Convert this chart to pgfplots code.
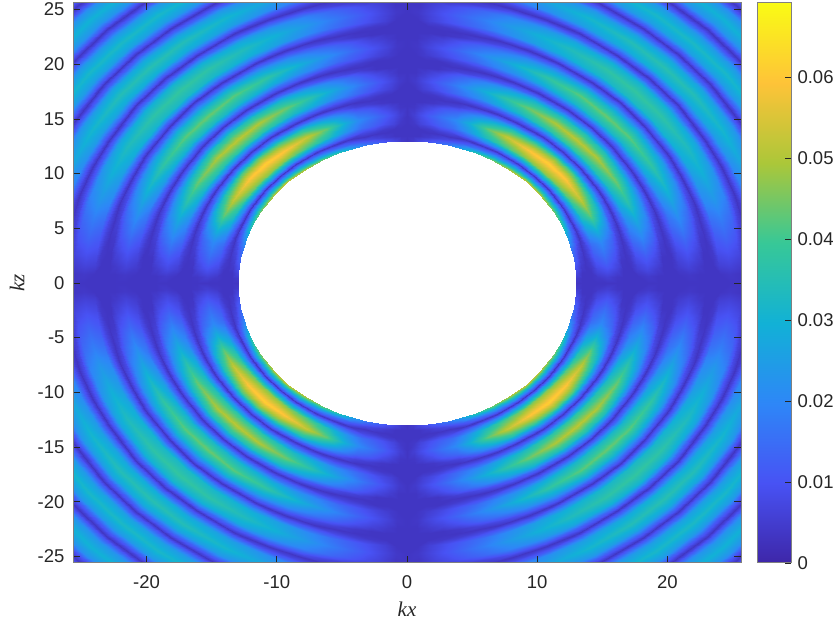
\documentclass[border=0pt]{standalone}
\usepackage{pgfplots}
\usepackage{pgfplotstable}
\usepackage{fontspec}
\setmainfont{Liberation Sans}
\newfontfamily\ser{Liberation Serif}
\pgfplotsset{compat=1.18}
% r = wavenumber radius, p = angle from the nearest axis (deg), v = amplitude in units of 0.001
\pgfplotstableread{
r p v
13.00 0 3.5
13.00 2 4.7
13.00 4 7.3
13.00 7 10.5
13.00 10 13.6
13.00 14 17.3
13.00 18 24.6
13.00 24 36.7
13.00 30 44.5
13.00 38 50.8
13.00 45 52.4
13.45 0 3.5
13.45 2 3.5
13.45 4 3.5
13.45 7 4.8
13.45 10 6.3
13.45 14 8.0
13.45 18 11.4
13.45 24 16.9
13.45 30 20.6
13.45 38 23.5
13.45 45 24.2
13.80 0 3.5
13.80 2 3.5
13.80 4 3.5
13.80 7 3.5
13.80 10 3.5
13.80 14 3.5
13.80 18 3.5
13.80 24 3.5
13.80 30 3.5
13.80 38 3.5
13.80 45 3.5
14.15 0 3.5
14.15 2 3.5
14.15 4 3.5
14.15 7 4.6
14.15 10 6.0
14.15 14 7.6
14.15 18 10.8
14.15 24 16.1
14.15 30 19.6
14.15 38 22.3
14.15 45 23.0
14.60 0 3.5
14.60 2 4.2
14.60 4 6.5
14.60 7 9.3
14.60 10 12.1
14.60 14 15.4
14.60 18 21.9
14.60 24 32.7
14.60 30 39.7
14.60 38 45.3
14.60 45 46.7
15.37 0 3.5
15.37 2 5.6
15.37 4 8.7
15.37 7 12.4
15.37 10 16.1
15.37 14 20.4
15.37 18 29.0
15.37 24 43.3
15.37 30 52.5
15.37 38 59.9
15.37 45 61.8
16.14 0 3.5
16.14 2 3.8
16.14 4 5.9
16.14 7 8.4
16.14 10 11.0
16.14 14 13.9
16.14 18 19.8
16.14 24 29.5
16.14 30 35.9
16.14 38 40.9
16.14 45 42.2
16.59 0 3.5
16.59 2 3.5
16.59 4 3.5
16.59 7 3.9
16.59 10 5.1
16.59 14 6.5
16.59 18 9.2
16.59 24 13.7
16.59 30 16.7
16.59 38 19.0
16.59 45 19.6
16.94 0 3.5
16.94 2 3.5
16.94 4 3.5
16.94 7 3.5
16.94 10 3.5
16.94 14 3.5
16.94 18 3.5
16.94 24 3.5
16.94 30 3.5
16.94 38 3.5
16.94 45 3.5
17.29 0 3.5
17.29 2 3.5
17.29 4 3.5
17.29 7 4.1
17.29 10 5.6
17.29 14 7.9
17.29 18 10.2
17.29 24 13.5
17.29 30 16.2
17.29 38 18.2
17.29 45 18.8
17.74 0 3.5
17.74 2 3.5
17.74 4 5.8
17.74 7 8.4
17.74 10 11.5
17.74 14 16.1
17.74 18 20.7
17.74 24 27.6
17.74 30 33.0
17.74 38 37.2
17.74 45 38.4
18.51 0 3.5
18.51 2 4.6
18.51 4 7.7
18.51 7 11.3
18.51 10 15.4
18.51 14 21.5
18.51 18 27.7
18.51 24 36.9
18.51 30 44.1
18.51 38 49.8
18.51 45 51.3
19.28 0 3.5
19.28 2 3.5
19.28 4 5.3
19.28 7 7.8
19.28 10 10.6
19.28 14 14.8
19.28 18 19.1
19.28 24 25.4
19.28 30 30.4
19.28 38 34.2
19.28 45 35.3
19.73 0 3.5
19.73 2 3.5
19.73 4 3.5
19.73 7 3.6
19.73 10 5.0
19.73 14 6.9
19.73 18 8.9
19.73 24 11.9
19.73 30 14.2
19.73 38 16.0
19.73 45 16.5
20.08 0 3.5
20.08 2 3.5
20.08 4 3.5
20.08 7 3.5
20.08 10 3.5
20.08 14 3.5
20.08 18 3.5
20.08 24 3.5
20.08 30 3.5
20.08 38 3.5
20.08 45 3.5
20.43 0 3.5
20.43 2 3.5
20.43 4 3.5
20.43 7 3.5
20.43 10 4.8
20.43 14 6.7
20.43 18 8.6
20.43 24 11.5
20.43 30 13.8
20.43 38 15.5
20.43 45 16.0
20.88 0 3.5
20.88 2 3.5
20.88 4 4.9
20.88 7 7.2
20.88 10 9.8
20.88 14 13.7
20.88 18 17.6
20.88 24 23.5
20.88 30 28.0
20.88 38 31.6
20.88 45 32.6
21.65 0 3.5
21.65 2 4.0
21.65 4 6.6
21.65 7 9.7
21.65 10 13.2
21.65 14 18.4
21.65 18 23.7
21.65 24 31.6
21.65 30 37.8
21.65 38 42.6
21.65 45 43.9
22.42 0 3.5
22.42 2 3.5
22.42 4 4.6
22.42 7 6.7
22.42 10 9.1
22.42 14 12.8
22.42 18 16.4
22.42 24 21.9
22.42 30 26.1
22.42 38 29.5
22.42 45 30.4
22.87 0 3.5
22.87 2 3.5
22.87 4 3.5
22.87 7 3.5
22.87 10 4.3
22.87 14 6.0
22.87 18 7.7
22.87 24 10.2
22.87 30 12.2
22.87 38 13.8
22.87 45 14.2
23.22 0 3.5
23.22 2 3.5
23.22 4 3.5
23.22 7 3.5
23.22 10 3.5
23.22 14 3.5
23.22 18 3.5
23.22 24 3.5
23.22 30 3.5
23.22 38 3.5
23.22 45 3.5
23.57 0 3.5
23.57 2 3.5
23.57 4 3.5
23.57 7 4.3
23.57 10 5.8
23.57 14 7.6
23.57 18 9.9
23.57 24 12.2
23.57 30 13.9
23.57 38 15.4
23.57 45 15.9
24.02 0 3.5
24.02 2 3.5
24.02 4 5.9
24.02 7 8.9
24.02 10 11.7
24.02 14 15.6
24.02 18 20.2
24.02 24 25.2
24.02 30 28.8
24.02 38 31.6
24.02 45 32.7
24.79 0 3.5
24.79 2 4.2
24.79 4 6.9
24.79 7 10.3
24.79 10 13.8
24.79 14 18.4
24.79 18 23.7
24.79 24 29.5
24.79 30 33.7
24.79 38 37.2
24.79 45 38.3
25.56 0 3.5
25.56 2 3.5
25.56 4 5.5
25.56 7 8.3
25.56 10 11.0
25.56 14 14.7
25.56 18 19.0
25.56 24 23.6
25.56 30 26.9
25.56 38 29.7
25.56 45 30.6
26.01 0 3.5
26.01 2 3.5
26.01 4 3.5
26.01 7 3.5
26.01 10 5.2
26.01 14 6.9
26.01 18 9.0
26.01 24 11.0
26.01 30 12.7
26.01 38 13.9
26.01 45 14.4
26.37 0 3.5
26.37 2 3.5
26.37 4 3.5
26.37 7 3.5
26.37 10 3.5
26.37 14 3.5
26.37 18 3.5
26.37 24 3.5
26.37 30 3.5
26.37 38 3.5
26.37 45 3.5
26.72 0 3.5
26.72 2 3.5
26.72 4 3.5
26.72 7 3.5
26.72 10 5.1
26.72 14 6.8
26.72 18 8.7
26.72 24 10.8
26.72 30 12.3
26.72 38 13.6
26.72 45 14.0
27.17 0 3.5
27.17 2 3.5
27.17 4 5.2
27.17 7 7.8
27.17 10 10.4
27.17 14 13.8
27.17 18 17.9
27.17 24 22.2
27.17 30 25.4
27.17 38 27.9
27.17 45 28.9
27.94 0 3.5
27.94 2 3.9
27.94 4 6.4
27.94 7 9.7
27.94 10 12.8
27.94 14 17.1
27.94 18 22.2
27.94 24 27.5
27.94 30 31.4
27.94 38 34.7
27.94 45 35.7
28.71 0 3.5
28.71 2 3.5
28.71 4 4.9
28.71 7 7.4
28.71 10 9.8
28.71 14 13.1
28.71 18 16.9
28.71 24 20.9
28.71 30 24.0
28.71 38 26.5
28.71 45 27.3
29.16 0 3.5
29.16 2 3.5
29.16 4 3.5
29.16 7 3.5
29.16 10 4.6
29.16 14 6.2
29.16 18 7.9
29.16 24 9.9
29.16 30 11.4
29.16 38 12.5
29.16 45 12.9
29.51 0 3.5
29.51 2 3.5
29.51 4 3.5
29.51 7 3.5
29.51 10 3.5
29.51 14 3.5
29.51 18 3.5
29.51 24 3.5
29.51 30 3.5
29.51 38 3.5
29.51 45 3.5
29.86 0 3.5
29.86 2 3.5
29.86 4 3.5
29.86 7 3.5
29.86 10 5.3
29.86 14 6.8
29.86 18 8.3
29.86 24 10.0
29.86 30 11.3
29.86 38 12.3
29.86 45 12.5
30.31 0 3.5
30.31 2 3.5
30.31 4 5.8
30.31 7 8.3
30.31 10 10.9
30.31 14 14.0
30.31 18 17.1
30.31 24 20.7
30.31 30 23.3
30.31 38 25.4
30.31 45 25.9
31.08 0 3.5
31.08 2 4.6
31.08 4 7.2
31.08 7 10.5
31.08 10 13.8
31.08 14 17.7
31.08 18 21.6
31.08 24 26.2
31.08 30 29.4
31.08 38 32.1
31.08 45 32.7
31.85 0 3.5
31.85 2 3.5
31.85 4 5.4
31.85 7 7.8
31.85 10 10.4
31.85 14 13.3
31.85 18 16.2
31.85 24 19.7
31.85 30 22.2
31.85 38 24.2
31.85 45 24.6
32.30 0 3.5
32.30 2 3.5
32.30 4 3.5
32.30 7 3.5
32.30 10 4.8
32.30 14 6.3
32.30 18 7.7
32.30 24 9.3
32.30 30 10.5
32.30 38 11.4
32.30 45 11.6
32.65 0 3.5
32.65 2 3.5
32.65 4 3.5
32.65 7 3.5
32.65 10 3.5
32.65 14 3.5
32.65 18 3.5
32.65 24 3.5
32.65 30 3.5
32.65 38 3.5
32.65 45 3.5
33.00 0 3.5
33.00 2 3.5
33.00 4 3.5
33.00 7 3.5
33.00 10 4.8
33.00 14 6.1
33.00 18 7.5
33.00 24 9.1
33.00 30 10.2
33.00 38 11.2
33.00 45 11.4
33.45 0 3.5
33.45 2 3.5
33.45 4 5.2
33.45 7 7.5
33.45 10 9.9
33.45 14 12.7
33.45 18 15.5
33.45 24 18.7
33.45 30 21.2
33.45 38 23.0
33.45 45 23.5
34.22 0 3.5
34.22 2 4.2
34.22 4 6.6
34.22 7 9.6
34.22 10 12.6
34.22 14 16.2
34.22 18 19.8
34.22 24 24.0
34.22 30 27.0
34.22 38 29.4
34.22 45 30.0
34.99 0 3.5
34.99 2 3.5
34.99 4 4.9
34.99 7 7.1
34.99 10 9.4
34.99 14 12.1
34.99 18 14.8
34.99 24 17.9
34.99 30 20.2
34.99 38 22.0
34.99 45 22.4
35.44 0 3.5
35.44 2 3.5
35.44 4 3.5
35.44 7 3.5
35.44 10 4.5
35.44 14 5.8
35.44 18 7.0
35.44 24 8.5
35.44 30 9.5
35.44 38 10.4
35.44 45 10.6
35.79 0 3.5
35.79 2 3.5
35.79 4 3.5
35.79 7 3.5
35.79 10 3.5
35.79 14 3.5
35.79 18 3.5
35.79 24 3.5
35.79 30 3.5
35.79 38 3.5
35.79 45 3.5
36.14 0 3.5
36.14 2 3.5
36.14 4 3.5
36.14 7 3.5
36.14 10 4.4
36.14 14 5.6
36.14 18 6.8
36.14 24 8.3
36.14 30 9.3
36.14 38 10.1
36.14 45 10.4
36.59 0 3.5
36.59 2 3.5
36.59 4 4.7
36.59 7 6.9
36.59 10 9.0
36.59 14 11.5
36.59 18 14.1
36.59 24 17.1
36.59 30 19.2
36.59 38 20.9
36.59 45 21.4
}\rings
\newcommand\octant[2]{\addplot[surf,shader=interp,mesh/cols=11,point meta={\thisrow{v}/1000}]
  table[x expr={#1},y expr={#2}]{\rings};}
\def\C{(\thisrow{r}*cos(\thisrow{p}))}
\def\S{(\thisrow{r}*sin(\thisrow{p}))}
\pgfplotsset{
  parula/.style={colormap={parula}{rgb=(0.2422,0.1504,0.6603) rgb=(0.2810,0.3228,0.9579) rgb=(0.1786,0.5289,0.9682) rgb=(0.0689,0.6948,0.8394) rgb=(0.2161,0.7843,0.5923) rgb=(0.6720,0.7793,0.2227) rgb=(0.9970,0.7659,0.2199) rgb=(0.9769,0.9839,0.0805)}},
  frame/.style={scale only axis,axis on top,parula,point meta min=0,point meta max=0.0692,
    tick align=inside,
    tick style={draw=black!85,line width=0.7pt},
    axis line style={draw=black!50,line width=1pt},
    tick label style={font=\fontsize{18.5}{20}\selectfont,text=black!85}},
}
\begin{document}
\begin{tikzpicture}[x=1pt,y=1pt]
\useasboundingbox (-73,-57) rectangle (765,563);
\begin{axis}[frame,
  at={(0pt,0pt)},anchor=south west,
  width=668pt,height=560pt,
  xmin=-25.65,xmax=25.65,ymin=-25.6,ymax=25.6,
  xtick={-20,-10,0,10,20},xticklabels={-20,-10,0,10,20},
  ytick={-25,-20,-15,-10,-5,0,5,10,15,20,25},
  yticklabels={-25,-20,-15,-10,-5,0,5,10,15,20,25},
  major tick length=7pt,
  xticklabel style={yshift=-9pt},
  yticklabel style={xshift=-5pt},
  xlabel={{\ser\itshape kx}},ylabel={{\ser\itshape kz}},
  xlabel style={at={(axis description cs:0.5,0)},anchor=center,yshift=-46pt,font=\fontsize{21}{24}\selectfont,text=black!85},
  ylabel style={at={(axis description cs:0,0.5)},anchor=center,yshift=56pt,font=\fontsize{21}{24}\selectfont,text=black!85},
]
\octant{\C}{\S}
\octant{\S}{\C}
\octant{-\C}{\S}
\octant{-\S}{\C}
\octant{\C}{-\S}
\octant{\S}{-\C}
\octant{-\C}{-\S}
\octant{-\S}{-\C}
\end{axis}
\begin{axis}[frame,
  at={(684pt,0pt)},anchor=south west,
  width=34pt,height=560pt,
  xmin=0,xmax=1,ymin=0,ymax=0.0692,
  xtick=\empty,
  ytick={0,0.01,0.02,0.03,0.04,0.05,0.06},
  yticklabels={0,0.01,0.02,0.03,0.04,0.05,0.06},
  scaled y ticks=false,
  ytick pos=right,yticklabel pos=right,
  major tick length=6pt,
  yticklabel style={xshift=3pt},
]
\addplot[surf,shader=interp,mesh/cols=2,point meta=y] coordinates {
(0,0) (1,0)
(0,0.00988571) (1,0.00988571)
(0,0.01977143) (1,0.01977143)
(0,0.02965714) (1,0.02965714)
(0,0.03954286) (1,0.03954286)
(0,0.04942857) (1,0.04942857)
(0,0.05931429) (1,0.05931429)
(0,0.0692) (1,0.0692)};
\end{axis}
\end{tikzpicture}
\end{document}
